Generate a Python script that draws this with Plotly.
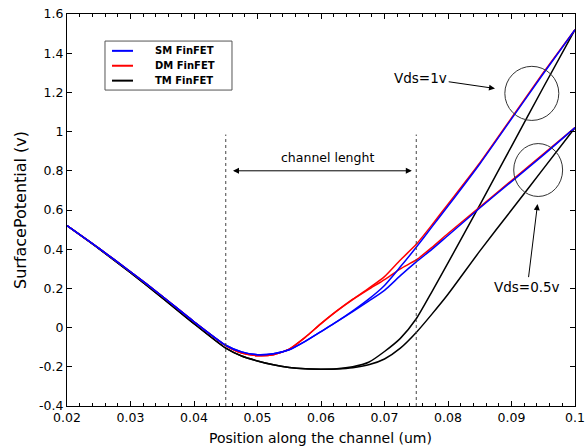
import plotly.graph_objects as go

# ---------------- data ----------------
x_pos = [0.020, 0.025, 0.030, 0.035, 0.040, 0.045, 0.0475, 0.050, 0.0525, 0.055,
         0.0575, 0.060, 0.0625, 0.065, 0.0675, 0.070, 0.0725, 0.075, 0.0775, 0.080,
         0.085, 0.090, 0.095, 0.100]

sm_1v = [0.52, 0.405, 0.285, 0.16, 0.03, -0.09, -0.124, -0.138, -0.133, -0.113,
         -0.07, -0.02, 0.03, 0.085, 0.145, 0.215, 0.31, 0.41, 0.515, 0.62,
         0.835, 1.065, 1.295, 1.52]
sm_05v = [0.52, 0.405, 0.285, 0.16, 0.03, -0.09, -0.124, -0.138, -0.133, -0.113,
          -0.07, -0.02, 0.03, 0.082, 0.135, 0.19, 0.265, 0.335, 0.40, 0.47,
          0.61, 0.745, 0.88, 1.02]
dm_1v = [0.52, 0.405, 0.285, 0.16, 0.03, -0.092, -0.13, -0.143, -0.138, -0.11,
         -0.05, 0.02, 0.085, 0.145, 0.2, 0.26, 0.345, 0.425, 0.525, 0.63,
         0.84, 1.07, 1.30, 1.52]
dm_05v = [0.52, 0.405, 0.285, 0.16, 0.03, -0.092, -0.13, -0.143, -0.138, -0.11,
          -0.05, 0.02, 0.085, 0.143, 0.195, 0.245, 0.30, 0.345, 0.41, 0.48,
          0.615, 0.75, 0.885, 1.02]
tm_1v = [0.52, 0.403, 0.28, 0.152, 0.02, -0.105, -0.145, -0.17, -0.19, -0.203,
         -0.21, -0.212, -0.21, -0.2, -0.177, -0.122, -0.055, 0.045, 0.185, 0.33,
         0.625, 0.925, 1.225, 1.52]
tm_05v = [0.52, 0.403, 0.28, 0.152, 0.02, -0.105, -0.145, -0.17, -0.19, -0.203,
          -0.21, -0.212, -0.211, -0.205, -0.19, -0.16, -0.105, -0.025, 0.07, 0.17,
          0.39, 0.60, 0.81, 1.02]

legend_names = ["SM FinFET", "DM FinFET", "TM FinFET"]
series_colors = ["#0000ff", "#ff0000", "#000000"]

x_tickvals = [0.02, 0.03, 0.04, 0.05, 0.06, 0.07, 0.08, 0.09, 0.1]
x_ticktext = ["0.02", "0.03", "0.04", "0.05", "0.06", "0.07", "0.08", "0.09", "0.1"]
y_tickvals = [-0.4, -0.2, 0, 0.2, 0.4, 0.6, 0.8, 1.0, 1.2, 1.4, 1.6]
y_ticktext = ["-0.4", "-0.2", "0", "0.2", "0.4", "0.6", "0.8", "1", "1.2", "1.4", "1.6"]

channel_edges = [0.045, 0.075]

FONT = "DejaVu Sans"

fig = go.Figure()

# draw order: TM, DM, SM (blue on top)
order = [(tm_1v, tm_05v, 2), (dm_1v, dm_05v, 1), (sm_1v, sm_05v, 0)]
for y1, y2, idx in order:
    for yy in (y1, y2):
        fig.add_trace(go.Scatter(
            x=x_pos, y=yy, mode="lines", name=legend_names[idx],
            line=dict(color=series_colors[idx], width=1.5, shape="spline", smoothing=0.6),
            showlegend=False, hoverinfo="skip"))

shapes = []
# dotted channel edges
for xe in channel_edges:
    shapes.append(dict(type="line", xref="x", yref="y", x0=xe, x1=xe, y0=-0.4, y1=0.985,
                       line=dict(color="#444444", width=1, dash="dot")))
# circles
circles = [(0.0932, 1.195, 0.00425, 0.138), (0.0942, 0.804, 0.00385, 0.135)]
for cx, cy, rx, ry in circles:
    shapes.append(dict(type="circle", xref="x", yref="y",
                       x0=cx - rx, x1=cx + rx, y0=cy - ry, y1=cy + ry,
                       line=dict(color="#333333", width=1)))

# manual legend box
shapes.append(dict(type="rect", xref="paper", yref="paper",
                   x0=0.0748, x1=0.3248, y0=0.806, y1=0.931,
                   line=dict(color="#555555", width=1), fillcolor="white"))
leg_y = [0.906, 0.868, 0.830]
annotations = []
for name, col, ly in zip(legend_names, series_colors, leg_y):
    shapes.append(dict(type="line", xref="paper", yref="paper",
                       x0=0.0886, x1=0.1299, y0=ly, y1=ly,
                       line=dict(color=col, width=2)))
    annotations.append(dict(xref="paper", yref="paper", x=0.1693, y=ly,
                            text="<b>" + name + "</b>", showarrow=False,
                            xanchor="left", yanchor="middle",
                            font=dict(family=FONT, size=10, color="black")))

# channel length double arrow
annotations.append(dict(xref="x", yref="y", axref="x", ayref="y",
                        x=0.0743, y=0.80, ax=0.0459, ay=0.80, text="",
                        showarrow=True, arrowhead=2, startarrowhead=2,
                        arrowside="end+start", arrowsize=1.2, arrowwidth=1,
                        arrowcolor="black", standoff=0, startstandoff=0))
annotations.append(dict(xref="x", yref="y", x=0.061, y=0.87, text="channel lenght",
                        showarrow=False, font=dict(family=FONT, size=12.5, color="black")))

# Vds labels with arrows
annotations.append(dict(xref="x", yref="y", axref="x", ayref="y",
                        x=0.0874, y=1.22, ax=0.0757, ay=1.275, text="Vds=1v",
                        showarrow=True, arrowhead=2, arrowsize=1.2, arrowwidth=1,
                        arrowcolor="black", standoff=0,
                        font=dict(family=FONT, size=13.5, color="black")))
annotations.append(dict(xref="x", yref="y", axref="x", ayref="y",
                        x=0.0941, y=0.63, ax=0.0925, ay=0.209, text="Vds=0.5v",
                        showarrow=True, arrowhead=2, arrowsize=1.2, arrowwidth=1,
                        arrowcolor="black", standoff=0,
                        font=dict(family=FONT, size=13.5, color="black")))

# axis titles
annotations.append(dict(xref="paper", yref="paper", x=0.499, y=-0.0816,
                        text="Position along the channel (um)", showarrow=False,
                        xanchor="center", yanchor="middle",
                        font=dict(family=FONT, size=14, color="black")))
annotations.append(dict(xref="paper", yref="paper", x=-0.0925, y=0.5,
                        text="SurfacePotential (v)", showarrow=False, textangle=-90,
                        xanchor="center", yanchor="middle",
                        font=dict(family=FONT, size=16, color="black")))

fig.update_layout(
    width=586, height=446,
    margin=dict(l=67, r=11, t=14, b=40),
    paper_bgcolor="white", plot_bgcolor="white",
    showlegend=False,
    shapes=shapes, annotations=annotations,
    font=dict(family=FONT, size=12.5, color="black"),
)
fig.update_xaxes(
    range=[0.02, 0.1], tickmode="array", tickvals=x_tickvals, ticktext=x_ticktext,
    ticks="inside", ticklen=5, tickcolor="black", showline=True, linecolor="black",
    linewidth=1, mirror="ticks", showgrid=False, zeroline=False, automargin=False,
    minor=dict(tickmode="linear", tick0=0.02, dtick=0.002, ticks="inside",
               ticklen=3, tickcolor="black", showgrid=False),
    tickfont=dict(family=FONT, size=12.5, color="black"),
)
fig.update_yaxes(
    range=[-0.4, 1.6], tickmode="array", tickvals=y_tickvals, ticktext=y_ticktext,
    ticks="inside", ticklen=5, tickcolor="black", showline=True, linecolor="black",
    linewidth=1, mirror="ticks", showgrid=False, zeroline=False, automargin=False,
    tickfont=dict(family=FONT, size=12.5, color="black"),
)

fig.write_html("out.html")
